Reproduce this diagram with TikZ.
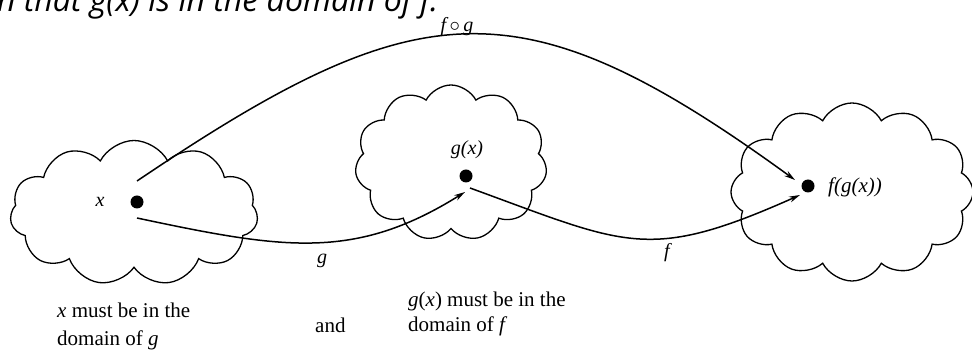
\documentclass[tikz,border=0pt]{standalone}
\usepackage{fontspec}
\setmainfont{Liberation Serif}
\newfontfamily\topfont{Open Sans}
\usetikzlibrary{shapes.symbols,arrows.meta}
\begin{document}
\begin{tikzpicture}[x=1pt,y=1pt,
  cloudbox/.style={cloud, draw, line width=1.3pt, cloud puffs=11, cloud puff arc=125, inner sep=0pt},
  dotnode/.style={circle, fill, inner sep=0pt, minimum size=13pt},
  lbl/.style={font=\fontsize{20}{24}\selectfont\itshape, inner sep=0pt},
  note/.style={font=\fontsize{21}{25}\selectfont, inner sep=0pt, anchor=base west},
  arr/.style={line width=1.5pt, -{Stealth[length=11pt,width=6pt]}}]
\useasboundingbox (0,0) rectangle (972,353);
\begin{scope}
\clip (0,0) rectangle (972,353);
\node[anchor=base west, inner sep=0pt, font=\topfont\itshape\fontsize{32}{38}\selectfont] (top) at (-3,341) {n that g(x) is in the domain of f.};
% clouds
\node[cloudbox, minimum width=248pt, minimum height=145pt] (cl1) at (134,140) {};
\node[cloudbox, cloud puffs=11, aspect=1.25, minimum width=192pt, minimum height=156pt] (cl2) at (451,190) {};
\node[cloudbox, cloud puffs=12, minimum width=242pt, minimum height=178pt] (cl3) at (852,161) {};
\end{scope}
% dots
\node[dotnode] (dx) at (137,151) {};
\node[dotnode] (dg) at (466,177) {};
\node[dotnode] (dfg) at (808,167) {};
% point labels
\node[lbl] (lx) at (100,151) {x};
\node[lbl] (lg) at (467,203) {g(x)};
\node[lbl, anchor=west, font=\fontsize{21}{25}\selectfont\itshape] (lfg) at (828,166) {f(g(x))};
% arrows
\draw[arr] ([yshift=21pt]dx.center) .. controls +(34:340pt) and +(144:340pt) .. ([shift={(-13pt,6pt)}]dfg.center);
\draw[arr] ([yshift=-16pt]dx.center) .. controls +(-12:150pt) and +(212:130pt) .. ([shift={(-1pt,-16pt)}]dg.center);
\draw[arr] ([shift={(4pt,-12pt)}]dg.center) .. controls +(-20:167pt) and +(204:167pt) .. ([shift={(-8pt,-9pt)}]dfg.center);
% arrow labels
\node[lbl] (lcomp) at (457,326) {f\,$\circ$\,g};
\node[lbl] (lgl) at (322,92) {g};
\node[lbl] (lfl) at (667,100) {f};
% notes
\node[note] (n1a) at (57,35) {\textit{x} must be in the};
\node[note] (n1b) at (57,7) {domain of \textit{g}};
\node[note] (nand) at (315,20) {and};
\node[note] (n2a) at (408,46) {\textit{g}(\textit{x}) must be in the};
\node[note] (n2b) at (408,21) {domain of \textit{f}};
\end{tikzpicture}
\end{document}
